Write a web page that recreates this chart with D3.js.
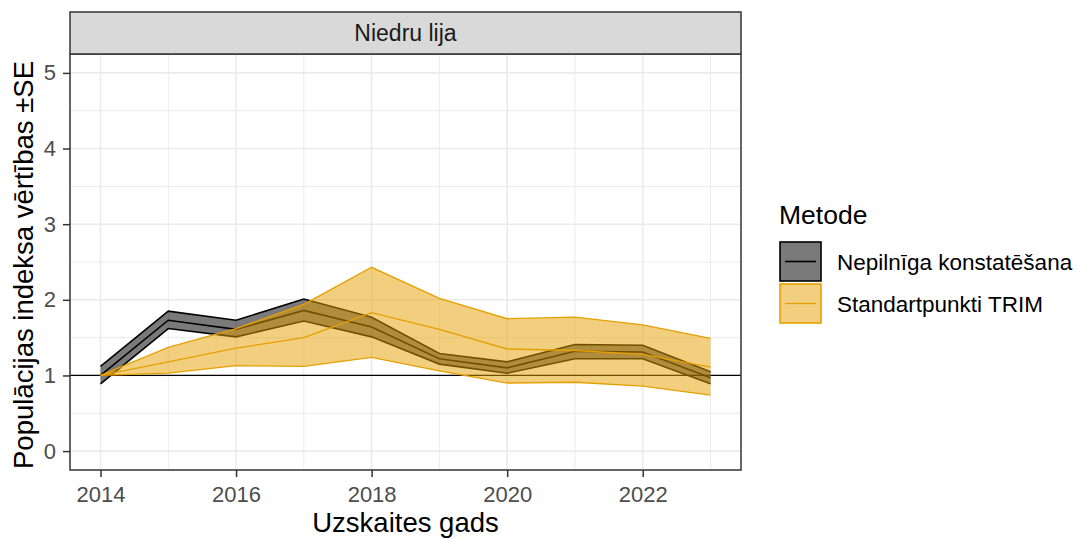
<!DOCTYPE html>
<html>
<head>
<meta charset="utf-8">
<script src="https://cdn.jsdelivr.net/npm/d3@7"></script>
<style>
  body { margin: 0; background: #fff; }
  text { font-family: "Liberation Sans", Arial, sans-serif; }
</style>
</head>
<body>
<svg id="chart" width="1082" height="539"></svg>
<script>
// data
const years = [2014, 2015, 2016, 2017, 2018, 2019, 2020, 2021, 2022, 2023]
const nepMean = [1.00, 1.73, 1.61, 1.86, 1.64, 1.22, 1.10, 1.32, 1.31, 0.97]
const nepLo = [0.89, 1.62, 1.51, 1.72, 1.51, 1.15, 1.03, 1.22, 1.22, 0.89]
const nepHi = [1.12, 1.85, 1.73, 2.01, 1.77, 1.29, 1.18, 1.41, 1.40, 1.05]
const trimMean = [1.00, 1.18, 1.36, 1.50, 1.83, 1.61, 1.35, 1.33, 1.28, 1.11]
const trimLo = [1.00, 1.03, 1.13, 1.12, 1.24, 1.06, 0.90, 0.91, 0.86, 0.74]
const trimHi = [1.00, 1.37, 1.62, 1.94, 2.43, 2.02, 1.75, 1.77, 1.67, 1.49]
const xTicks = [2014, 2016, 2018, 2020, 2022]
const xMinor = [2015, 2017, 2019, 2021, 2023]
const yTicks = [0, 1, 2, 3, 4, 5]
const yMinor = [0.5, 1.5, 2.5, 3.5, 4.5]
const seriesNames = ['Nepilnīga konstatēšana', 'Standartpunkti TRIM']

const svg = d3.select('#chart')
const panel = { left: 70, right: 741, top: 54, bottom: 470 }

const x = d3.scaleLinear().domain([2013.55, 2023.45]).range([panel.left, panel.right])
const y = d3.scaleLinear().domain([-0.25, 5.25]).range([panel.bottom, panel.top])

const grid = svg.append('g')
grid.selectAll('.ymin').data(yMinor).join('line')
  .attr('x1', panel.left).attr('x2', panel.right)
  .attr('y1', d => y(d)).attr('y2', d => y(d))
  .attr('stroke', '#EBEBEB').attr('stroke-width', 1)
grid.selectAll('.xmin').data(xMinor).join('line')
  .attr('y1', panel.top).attr('y2', panel.bottom)
  .attr('x1', d => x(d)).attr('x2', d => x(d))
  .attr('stroke', '#EBEBEB').attr('stroke-width', 1)
grid.selectAll('.ymaj').data(yTicks).join('line')
  .attr('x1', panel.left).attr('x2', panel.right)
  .attr('y1', d => y(d)).attr('y2', d => y(d))
  .attr('stroke', '#EBEBEB').attr('stroke-width', 1.6)
grid.selectAll('.xmaj').data(xTicks).join('line')
  .attr('y1', panel.top).attr('y2', panel.bottom)
  .attr('x1', d => x(d)).attr('x2', d => x(d))
  .attr('stroke', '#EBEBEB').attr('stroke-width', 1.6)

// reference line at 1
svg.append('line')
  .attr('x1', panel.left).attr('x2', panel.right)
  .attr('y1', y(1)).attr('y2', y(1))
  .attr('stroke', '#000').attr('stroke-width', 1.3)

function drawSeries (mean, lo, hi, fill, stroke, w) {
  const rows = years.map((yr, i) => ({ yr, m: mean[i], lo: lo[i], hi: hi[i] }))
  const area = d3.area().x(d => x(d.yr)).y0(d => y(d.lo)).y1(d => y(d.hi))
  svg.append('path').datum(rows).attr('d', area).attr('fill', fill)
  const edge = key => d3.line().x(d => x(d.yr)).y(d => y(d[key]))
  for (const k of ['lo', 'hi', 'm']) {
    svg.append('path').datum(rows).attr('d', edge(k))
      .attr('fill', 'none').attr('stroke', stroke).attr('stroke-width', w)
  }
}

drawSeries(nepMean, nepLo, nepHi, 'rgba(0,0,0,0.52)', '#000', 1.6)
drawSeries(trimMean, trimLo, trimHi, 'rgba(230,159,0,0.5)', '#E69F00', 1.3)

// panel border
svg.append('rect')
  .attr('x', panel.left).attr('y', panel.top)
  .attr('width', panel.right - panel.left).attr('height', panel.bottom - panel.top)
  .attr('fill', 'none').attr('stroke', '#333').attr('stroke-width', 1.5)

// strip
svg.append('rect')
  .attr('x', panel.left).attr('y', 12)
  .attr('width', panel.right - panel.left).attr('height', panel.top - 12)
  .attr('fill', '#D9D9D9').attr('stroke', '#333').attr('stroke-width', 1.5)
svg.append('text')
  .attr('x', (panel.left + panel.right) / 2).attr('y', 33)
  .attr('text-anchor', 'middle').attr('dominant-baseline', 'central')
  .attr('font-size', 23).attr('fill', '#1A1A1A')
  .text('Niedru lija')

// axes
const yAxis = svg.append('g')
  .attr('transform', `translate(${panel.left},0)`)
  .call(d3.axisLeft(y).tickValues(yTicks).tickFormat(d3.format('d')).tickSize(7).tickPadding(7))
const xAxis = svg.append('g')
  .attr('transform', `translate(0,${panel.bottom})`)
  .call(d3.axisBottom(x).tickValues(xTicks).tickFormat(d3.format('d')).tickSize(7).tickPadding(9))
for (const ax of [yAxis, xAxis]) {
  ax.select('.domain').remove()
  ax.selectAll('.tick line').attr('stroke', '#333').attr('stroke-width', 1.5)
  ax.selectAll('.tick text').attr('fill', '#4D4D4D').attr('font-size', 22)
    .attr('font-family', '"Liberation Sans", Arial, sans-serif')
}

svg.append('text')
  .attr('x', (panel.left + panel.right) / 2).attr('y', 532)
  .attr('text-anchor', 'middle').attr('font-size', 27.5).attr('fill', '#000')
  .text('Uzskaites gads')
svg.append('text')
  .attr('transform', `translate(33,${(panel.top + panel.bottom) / 2 + 3}) rotate(-90)`)
  .attr('text-anchor', 'middle').attr('font-size', 27.5).attr('fill', '#000')
  .text('Populācijas indeksa vērtības ±SE')

// legend
const legend = svg.append('g').attr('transform', 'translate(779,0)')
legend.append('text').attr('x', 0).attr('y', 224)
  .attr('font-size', 26.5).attr('fill', '#000').text('Metode')
const keys = [
  { name: seriesNames[0], fill: 'rgba(0,0,0,0.52)', stroke: '#000', w: 1.6 },
  { name: seriesNames[1], fill: 'rgba(230,159,0,0.5)', stroke: '#E69F00', w: 1.3 }
]
keys.forEach((k, i) => {
  const top = 242 + i * 42
  legend.append('rect').attr('x', 1).attr('y', top).attr('width', 41).attr('height', 39)
    .attr('fill', k.fill).attr('stroke', k.stroke).attr('stroke-width', 1.6)
  legend.append('line').attr('x1', 6).attr('x2', 37)
    .attr('y1', top + 19.5).attr('y2', top + 19.5)
    .attr('stroke', k.stroke).attr('stroke-width', k.w)
  legend.append('text').attr('x', 58).attr('y', top + 20)
    .attr('dominant-baseline', 'central').attr('font-size', 22.5).attr('fill', '#000')
    .text(k.name)
})
</script>
</body>
</html>
